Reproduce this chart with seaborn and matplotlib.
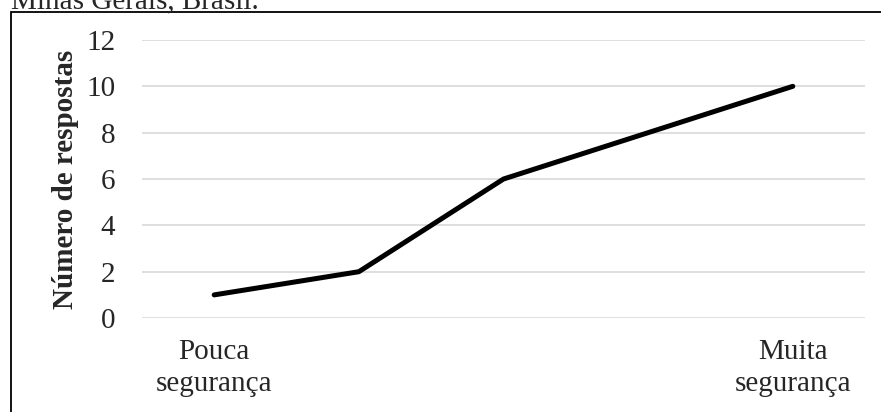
import matplotlib
matplotlib.use('Agg')
import matplotlib.pyplot as plt
import seaborn as sns
import pandas as pd
from matplotlib.patches import Rectangle

# data
niveis = [1, 2, 3, 4, 5]
respostas = [1, 2, 6, 8, 10]
rotulos = ['Pouca\nsegurança', '', '', '', 'Muita\nsegurança']

df = pd.DataFrame({'nivel': niveis, 'respostas': respostas})

sns.set_style('white')
plt.rcParams['font.family'] = ['Liberation Serif', 'DejaVu Serif']

fig = plt.figure(figsize=(8.81, 4.12), dpi=100)
ax = fig.add_axes([0.161, 0.228, 0.821, 0.675])

sns.lineplot(data=df, x='nivel', y='respostas', ax=ax, color='black',
             linewidth=3.6, solid_capstyle='round', solid_joinstyle='round')

ax.set_xlim(0.5, 5.5)
ax.set_ylim(0, 12)
ax.set_yticks(range(0, 13, 2))
ax.set_xticks(niveis)
ax.set_xticklabels(rotulos, fontsize=21, linespacing=1.3)
ax.tick_params(axis='y', labelsize=21, length=0, pad=19)
ax.tick_params(axis='x', length=0, pad=15)
ax.yaxis.grid(True, color='#d9d9d9', linewidth=1.2)
ax.set_axisbelow(True)
for s in ax.spines.values():
    s.set_visible(False)

ax.set_xlabel('')
ax.set_ylabel('Número de respostas', fontsize=21, fontweight='bold', labelpad=5)

# outer chart frame and the caption fragment above it
fig.patches.append(Rectangle((11 / 881, -0.1), 1.0, 1 - 12 / 412 + 0.1,
                             transform=fig.transFigure, fill=False,
                             edgecolor='black', linewidth=1.3))
fig.text(11 / 881, 1 - 8 / 412, 'Minas Gerais, Brasil.', fontsize=21,
         ha='left', va='baseline')

fig.savefig('out.png', dpi=100)
